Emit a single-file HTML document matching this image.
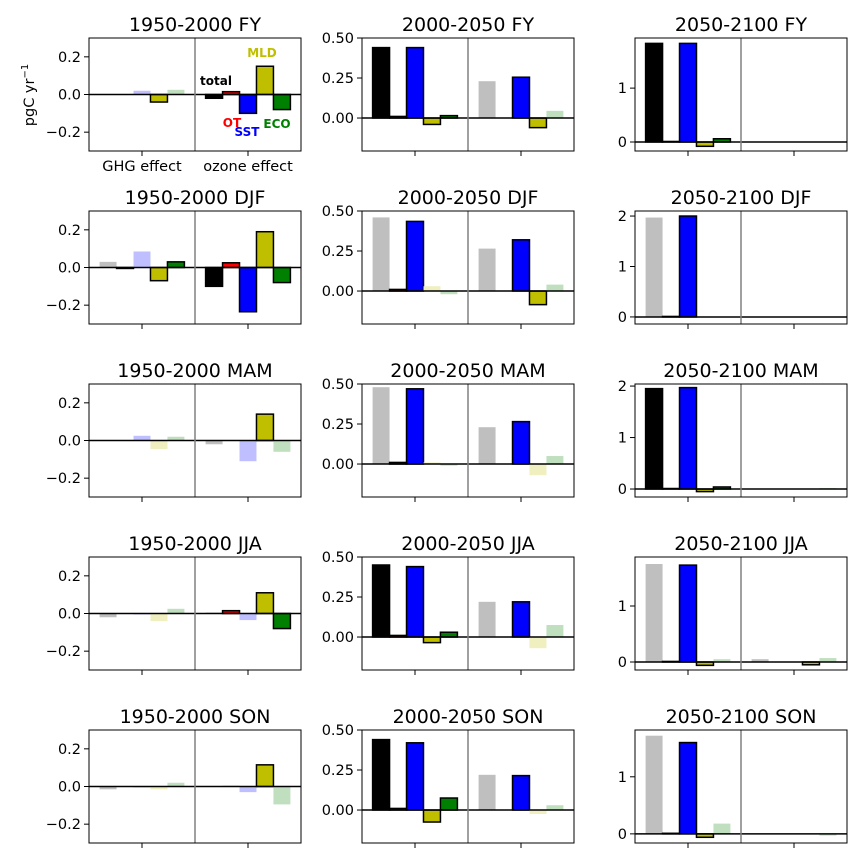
<!DOCTYPE html>
<html><head><meta charset="utf-8"><style>
body{margin:0;background:#fff}
svg{display:block;font-family:"DejaVu Sans","Liberation Sans",sans-serif}
</style></head><body>
<svg id="chart" width="864" height="864" viewBox="0 0 864 864"></svg>
<script>
const periods = ["1950-2000","2000-2050","2050-2100"];
const seasons = ["FY","DJF","MAM","JJA","SON"];
const components = ["total","OT","SST","MLD","ECO"];
const groups = ["GHG effect","ozone effect"];
// values[col][row] = [GHG x5, ozone x5]
const values = [
 [
  [0,0,0.02,-0.04,0.025, -0.02,0.015,-0.1,0.15,-0.08],
  [0.03,-0.005,0.085,-0.07,0.03, -0.1,0.025,-0.235,0.19,-0.08],
  [0,0,0.025,-0.045,0.02, -0.02,0,-0.11,0.14,-0.06],
  [-0.02,0,-0.005,-0.04,0.025, 0.005,0.015,-0.035,0.11,-0.08],
  [-0.015,0,-0.005,-0.015,0.02, 0,0.005,-0.03,0.115,-0.095]
 ],
 [
  [0.44,0.01,0.44,-0.04,0.015, 0.23,0,0.255,-0.06,0.045],
  [0.46,0.01,0.435,0.03,-0.02, 0.265,0,0.32,-0.085,0.04],
  [0.48,0.01,0.47,0.01,-0.01, 0.23,0,0.265,-0.07,0.05],
  [0.45,0.01,0.44,-0.035,0.03, 0.22,0,0.22,-0.07,0.075],
  [0.44,0.01,0.42,-0.075,0.075, 0.22,0,0.215,-0.025,0.03]
 ],
 [
  [1.83,0.01,1.83,-0.08,0.06, 0,0,0,0,0],
  [1.97,0.01,2.0,0.01,0, 0,0,0,0,0],
  [1.95,0.01,1.97,-0.05,0.04, 0,0,0,0,0.02],
  [1.75,0.01,1.73,-0.06,0.05, 0.05,0,0,-0.05,0.07],
  [1.72,0.01,1.6,-0.06,0.18, 0,0,0,0.01,-0.03]
 ]
];
const significant = [
 [
  [0,0,0,1,0, 1,1,1,1,1],
  [0,1,0,1,1, 1,1,1,1,1],
  [0,0,0,0,0, 0,0,0,1,0],
  [0,0,0,0,0, 0,1,0,1,1],
  [0,0,0,0,0, 0,0,0,1,0]
 ],
 [
  [1,1,1,1,1, 0,0,1,1,0],
  [0,1,1,0,0, 0,0,1,1,0],
  [0,1,1,0,0, 0,0,1,0,0],
  [1,1,1,1,1, 0,0,1,0,0],
  [1,1,1,1,1, 0,0,1,0,0]
 ],
 [
  [1,1,1,1,1, 0,0,0,0,0],
  [0,1,1,0,0, 0,0,0,0,0],
  [1,1,1,1,1, 0,0,0,0,0],
  [0,1,1,1,0, 0,0,0,1,0],
  [0,1,1,1,0, 0,0,0,0,0]
 ]
];
const colLimits = [[-0.3,0.3],[-0.206,0.5],null];
const col3Limits = [[-0.167,1.93],[-0.14,2.1],[-0.155,2.04],[-0.143,1.875],[-0.16,1.82]];
const colTicks = [[-0.2,0,0.2],[0,0.25,0.5],[0,1,2]];
const colTickLabels = [["\u22120.2","0.0","0.2"],["0.00","0.25","0.50"],["0","1","2"]];

const solid = ["#000000","#ff0000","#0000ff","#bfbf00","#008000"];
const faded = ["#bfbfbf","#ffbfbf","#bfbfff","#efefbf","#bfdfbf"];
const NS="http://www.w3.org/2000/svg";
const svg=document.getElementById('chart');
function mk(tag,attrs,parent,text){const e=document.createElementNS(NS,tag);for(const k in attrs)e.setAttribute(k,attrs[k]);if(text!==undefined)e.textContent=text;(parent||svg).appendChild(e);return e;}

const colX=[89,362,635], W=212, rowY=[38,211,384,557,730], H=113;
for(let c=0;c<3;c++){
 for(let r=0;r<5;r++){
  const x0=colX[c], y0=rowY[r];
  const lim = c===2 ? col3Limits[r] : colLimits[c];
  const y=v=> y0 + H*(lim[1]-v)/(lim[1]-lim[0]);
  const g=mk('g',{});
  
  
  const t=mk('text',{x:x0+W/2,y:y0-7,'text-anchor':'middle','font-size':'19',fill:'#000'},g,periods[c]+' '+seasons[r]);
  
  
  const half=W/2, bw=half*0.8/5;
  for(let gi=0;gi<2;gi++){
   const cx=x0+half*gi+half/2;
   for(let k=0;k<5;k++){
    const v=values[c][r][gi*5+k], s=significant[c][r][gi*5+k];
    const bx=cx+(k-2.5)*bw;
    const ya=y(Math.max(v,0)), yb=y(Math.min(v,0));
    const rect=mk('rect',{x:bx,y:ya,width:bw,height:Math.max(yb-ya,0.01),fill:s?solid[k]:faded[k],stroke:s?'#000':'none','stroke-width':s?1.5:0},g);
    
    
   }
   mk('line',{x1:cx,x2:cx,y1:y0+H,y2:y0+H+5,stroke:'#000','stroke-width':1},g);
   if(c===0&&r===0){
    const xl=mk('text',{x:cx,y:y0+H+20,'text-anchor':'middle','font-size':'14.5'},g,groups[gi]);
    
    
   }
  }
  mk('line',{x1:x0,x2:x0+W,y1:y(0),y2:y(0),stroke:'#000','stroke-width':1.5},g);
  mk('line',{x1:x0+half,x2:x0+half,y1:y0,y2:y0+H,stroke:'#808080','stroke-width':1.5},g);
  mk('rect',{x:x0,y:y0,width:W,height:H,fill:'none',stroke:'#000','stroke-width':1},g);
  colTicks[c].forEach((tv,i)=>{
   if(tv<lim[0]||tv>lim[1])return;
   const ty=y(tv);
   mk('line',{x1:x0-5,x2:x0,y1:ty,y2:ty,stroke:'#000','stroke-width':1},g);
   const tl=mk('text',{x:x0-8,y:ty+5,'text-anchor':'end','font-size':'14.5'},g,colTickLabels[c][i]);
   
   
  });
 }
}
const yt=mk('text',{x:0,y:0,transform:'translate(34,95) rotate(-90)','text-anchor':'middle','font-size':'14.5'});
yt.innerHTML='pgC yr<tspan dy="-6" font-size="10">\u22121</tspan>';


const ann=[["total",216,85,"#000"],["MLD",262,57,"#bfbf00"],["OT",232,127,"#ff0000"],["SST",247,136,"#0000ff"],["ECO",277,128,"#008000"]];
ann.forEach(a=>{
 const e=mk('text',{x:a[1],y:a[2],'text-anchor':'middle','font-size':'12','font-weight':'bold',fill:a[3]},svg,a[0]);
 
 
});
</script>
</body></html>
